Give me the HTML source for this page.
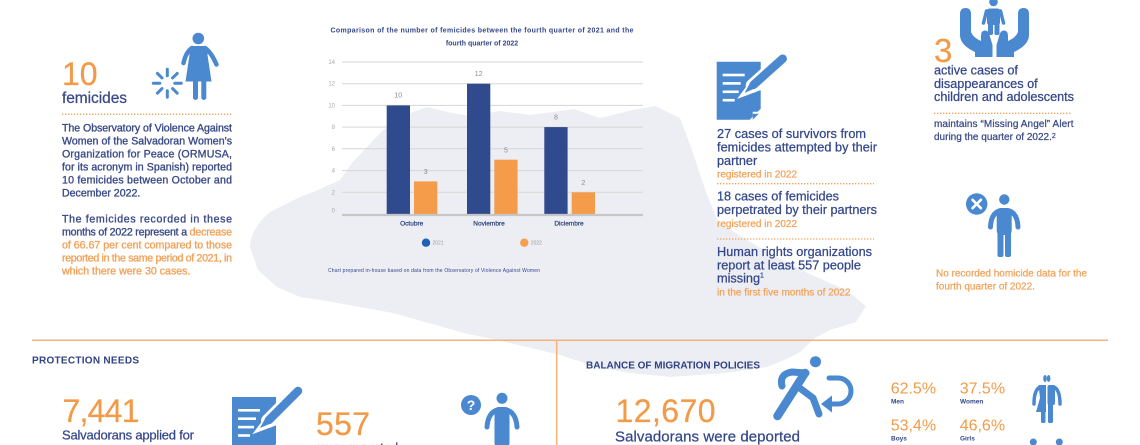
<!DOCTYPE html>
<html>
<head>
<meta charset="utf-8">
<style>
  html,body{margin:0;padding:0;background:#fff;}
  body{width:1140px;height:445px;overflow:hidden;}
  svg{display:block;}
  text{font-family:"Liberation Sans",Arial,sans-serif;}
  .med{stroke:currentColor;stroke-width:0.25px;}
  .med2{stroke:currentColor;stroke-width:0.35px;}
</style>
</head>
<body>
<svg width="1140" height="445" viewBox="0 0 1140 445" xmlns="http://www.w3.org/2000/svg">
  <rect width="1140" height="445" fill="#ffffff"/>

  <!-- Map silhouette -->
  <path fill="#eceef3" d="M250,247 C250,235 258,222 270,212 L300,197 L318,190 L340,180 L352,163 L367,147 L382,131 L402,116 L427,107 L447,112 L470,116 L500,111 L530,115 L553,112 L574,109 L600,118 L633,110 L655,106 L680,118 L692,150 L706,192 L718,222 L760,248 L805,272 L846,290 L866,306 L856,322 L830,330 L815,338 L800,352 L789,358 L767,367 L726,373 L671,377 L630,373 L597,367 L560,355 L510,343 L464,333 L393,313 L321,300 L300,297 L277,287 L258,270 Z"/>

  <!-- ============ LEFT BLOCK ============ -->
  <text x="62" y="85" font-size="32" fill="#f29a48" class="med" style="color:#f29a48">10</text>
  <text x="62" y="103" font-size="15.5" fill="#3a4a88" class="med" style="color:#3a4a88" textLength="65">femicides</text>

  <!-- woman icon -->
  <g fill="#4a89cf">
    <circle cx="198.3" cy="38.5" r="5.8"/>
    <path d="M191,46 L206,46 Q208.5,48 207.5,55 L211.5,81.5 L185.5,81.5 L189.5,55 Q188.5,48 191,46 Z"/>
    <rect x="193" y="78" width="5" height="22" rx="2.5"/>
    <rect x="201.3" y="78" width="5" height="22" rx="2.5"/>
  </g>
  <g stroke="#4a89cf" stroke-width="4.5" stroke-linecap="round" fill="none">
    <path d="M192,48 Q186,52 183.5,63"/>
    <path d="M205,48 Q211,52 216.5,64.5"/>
  </g>
  <g transform="translate(167.3,83.3)" stroke="#4a89cf" stroke-width="3" stroke-linecap="round">
    <line x1="0" y1="-7.5" x2="0" y2="-14" transform="rotate(0)"/>
    <line x1="0" y1="-7.5" x2="0" y2="-14" transform="rotate(45)"/>
    <line x1="0" y1="-7.5" x2="0" y2="-14" transform="rotate(90)"/>
    <line x1="0" y1="-7.5" x2="0" y2="-14" transform="rotate(135)"/>
    <line x1="0" y1="-7.5" x2="0" y2="-14" transform="rotate(180)"/>
    <line x1="0" y1="-7.5" x2="0" y2="-14" transform="rotate(225)"/>
    <line x1="0" y1="-7.5" x2="0" y2="-14" transform="rotate(270)"/>
    <line x1="0" y1="-7.5" x2="0" y2="-14" transform="rotate(315)"/>
  </g>

  <line x1="62" y1="114.3" x2="232" y2="114.3" stroke="#f3a259" stroke-width="1.3" stroke-dasharray="1.3,1.7"/>

  <g font-size="10.6" fill="#3a4a88" class="med2" style="color:#3a4a88">
    <text x="62" y="131.5" textLength="170" lengthAdjust="spacing">The Observatory of Violence Against</text>
    <text x="62" y="144.5" textLength="170" lengthAdjust="spacing">Women of the Salvadoran Women's</text>
    <text x="62" y="157.5" textLength="170" lengthAdjust="spacing">Organization for Peace (ORMUSA,</text>
    <text x="62" y="170.5" textLength="170" lengthAdjust="spacing">for its acronym in Spanish) reported</text>
    <text x="62" y="183.5" textLength="170" lengthAdjust="spacing">10 femicides between October and</text>
    <text x="62" y="196.5">December 2022.</text>
    <text x="62" y="222.5" textLength="170" lengthAdjust="spacing">The femicides recorded in these</text>
    <text x="62" y="235.5" textLength="170" lengthAdjust="spacing">months of 2022 represent a <tspan fill="#f3a259" style="color:#f3a259">decrease</tspan></text>
  </g>
  <g font-size="10.6" fill="#f3a259" class="med2" style="color:#f3a259">
    <text x="62" y="248.5" textLength="170" lengthAdjust="spacing">of 66.67 per cent compared to those</text>
    <text x="62" y="261.5" textLength="170" lengthAdjust="spacing">reported in the same period of 2021, in</text>
    <text x="62" y="274.5">which there were 30 cases.</text>
  </g>

  <!-- ============ CHART ============ -->
  <g font-size="7" font-weight="bold" fill="#34478a" text-anchor="middle">
    <text x="482" y="32.3" textLength="303" lengthAdjust="spacing">Comparison of the number of femicides between the fourth quarter of 2021 and the</text>
    <text x="482" y="45.3">fourth quarter of 2022</text>
  </g>
  <g stroke="#d6d6d6" stroke-width="1">
    <line x1="342" y1="62" x2="643" y2="62"/>
    <line x1="342" y1="83.7" x2="643" y2="83.7"/>
    <line x1="342" y1="105.4" x2="643" y2="105.4"/>
    <line x1="342" y1="127.1" x2="643" y2="127.1"/>
    <line x1="342" y1="148.8" x2="643" y2="148.8"/>
    <line x1="342" y1="170.6" x2="643" y2="170.6"/>
    <line x1="342" y1="192.3" x2="643" y2="192.3"/>
  </g>
  <g font-size="6" fill="#a8a8a8" text-anchor="end">
    <text x="335" y="64">14</text>
    <text x="335" y="85.7">12</text>
    <text x="335" y="107.4">10</text>
    <text x="335" y="129.1">8</text>
    <text x="335" y="150.8">6</text>
    <text x="335" y="172.6">4</text>
    <text x="335" y="194.3">2</text>
    <text x="335" y="212.5">0</text>
  </g>
  <!-- bars -->
  <g fill="#2f4a8d">
    <rect x="386.7" y="105.4" width="23.3" height="108.6"/>
    <rect x="467" y="83.7" width="23.3" height="130.3"/>
    <rect x="544.3" y="127.1" width="23.3" height="86.9"/>
  </g>
  <g fill="#f59c4b">
    <rect x="414" y="181.4" width="23.3" height="32.6"/>
    <rect x="494.3" y="159.7" width="23.3" height="54.3"/>
    <rect x="571.7" y="192.3" width="23.3" height="21.7"/>
  </g>
  <line x1="342" y1="215" x2="643" y2="215" stroke="#c6c6c6" stroke-width="2.2"/>
  <g font-size="7" fill="#8a8a8a" text-anchor="middle">
    <text x="398.3" y="97.5">10</text>
    <text x="478.7" y="76">12</text>
    <text x="556" y="119.5">8</text>
    <text x="425.7" y="174">3</text>
    <text x="506" y="152.3">5</text>
    <text x="583.3" y="185">2</text>
  </g>
  <g font-size="6.5" fill="#33477f" text-anchor="middle" class="med" style="color:#33477f">
    <text x="411.7" y="225.5">Octubre</text>
    <text x="489" y="225.5">Noviembre</text>
    <text x="569" y="225.5">Diciembre</text>
  </g>
  <circle cx="426" cy="242.7" r="4.2" fill="#1f5fb5"/>
  <text x="432.5" y="244.5" font-size="5" fill="#9a9a9a">2021</text>
  <circle cx="524.3" cy="242.7" r="4.2" fill="#f5a04e"/>
  <text x="530.8" y="244.5" font-size="5" fill="#9a9a9a">2022</text>
  <text x="328" y="271.8" font-size="5" fill="#34478a" textLength="212" lengthAdjust="spacing">Chart prepared in-house based on data from the Observatory of Violence Against Women</text>

  <!-- ============ MIDDLE-RIGHT BLOCK ============ -->
  <g transform="translate(716.7,61.7)">
    <path d="M0,0 H44 V47 L33,58 H0 Z" fill="#4a89cf"/>
    <g fill="#ffffff">
      <rect x="6" y="12" width="22" height="2.6"/>
      <rect x="6" y="20.4" width="18" height="2.6"/>
      <rect x="6" y="28.8" width="16" height="2.6"/>
      <rect x="6" y="37.2" width="12" height="2.6"/>
    </g>
    <line x1="66" y1="-3" x2="36" y2="24" stroke="#ffffff" stroke-width="14" stroke-linecap="round"/>
    <polygon points="26,33 38,17 42,27" fill="#ffffff" stroke="#ffffff" stroke-width="4"/>
    <line x1="66" y1="-3" x2="37" y2="23" stroke="#4a89cf" stroke-width="8.5" stroke-linecap="round"/>
    <polygon points="28,31 34,20 40,26" fill="#4a89cf"/>
    <polygon points="36,50 44,50 36,58" fill="#ffffff"/>
    <polygon points="36,52 42,52 36,58" fill="#4a89cf"/>
  </g>

  <g font-size="12.7" fill="#34478a" class="med" style="color:#34478a">
    <text x="717" y="138.1" textLength="149" lengthAdjust="spacing">27 cases of survivors from</text>
    <text x="717" y="151.5" textLength="160" lengthAdjust="spacing">femicides attempted by their</text>
    <text x="717" y="164.8">partner</text>
    <text x="717" y="200.5">18 cases of femicides</text>
    <text x="717" y="214.1" textLength="160" lengthAdjust="spacing">perpetrated by their partners</text>
    <text x="717" y="256.1" textLength="155" lengthAdjust="spacing">Human rights organizations</text>
    <text x="717" y="269.5">report at least 557 people</text>
    <text x="717" y="282.5">missing<tspan font-size="7" dy="-5">1</tspan></text>
  </g>
  <g font-size="10" fill="#f3a259" class="med" style="color:#f3a259">
    <text x="717" y="177.7">registered in 2022</text>
    <text x="717" y="227">registered in 2022</text>
    <text x="717" y="295.7">in the first five months of 2022</text>
  </g>
  <line x1="717" y1="183.7" x2="874" y2="183.7" stroke="#f3a259" stroke-width="1.3" stroke-dasharray="1.3,1.7"/>
  <line x1="717" y1="239" x2="874" y2="239" stroke="#f3a259" stroke-width="1.3" stroke-dasharray="1.3,1.7"/>

  <!-- ============ FAR RIGHT BLOCK ============ -->
  <!-- hands + child -->
  <g fill="#4a89cf">
    <circle cx="993.5" cy="2" r="4.3"/>
    <rect x="987" y="8.5" width="13" height="16.5" rx="2.5"/>
    <rect x="988" y="23" width="5" height="12" rx="1.5"/>
    <rect x="994.5" y="23" width="5" height="12" rx="1.5"/>
    <path d="M960,14 Q960,8 965.5,8 Q971,8 971,14 L971,32 Q973,37 979,40 L981,41 L981,36 Q981,30.5 985,30.5 Q988.5,30.5 989.5,35 L992.5,45 L992.5,57 L975,57 L975,52 Q960,45 960,35 Z"/>
    <path transform="translate(1989,0) scale(-1,1)" d="M960,14 Q960,8 965.5,8 Q971,8 971,14 L971,32 Q973,37 979,40 L981,41 L981,36 Q981,30.5 985,30.5 Q988.5,30.5 989.5,35 L992.5,45 L992.5,57 L975,57 L975,52 Q960,45 960,35 Z"/>
  </g>
  <g stroke="#4a89cf" stroke-width="3.5" stroke-linecap="round">
    <line x1="986.5" y1="11" x2="983.5" y2="23"/>
    <line x1="1000.5" y1="11" x2="1003.5" y2="23"/>
  </g>

  <text x="934" y="62" font-size="33" fill="#f29a48" class="med" style="color:#f29a48">3</text>
  <g font-size="12.7" fill="#34478a" class="med" style="color:#34478a">
    <text x="934" y="74.5">active cases of</text>
    <text x="934" y="87.8">disappearances of</text>
    <text x="934" y="101.1" textLength="140" lengthAdjust="spacing">children and adolescents</text>
  </g>
  <line x1="934" y1="113.3" x2="1072" y2="113.3" stroke="#f3a259" stroke-width="1.3" stroke-dasharray="1.3,1.7"/>
  <g font-size="10" fill="#3a4a88" class="med" style="color:#3a4a88">
    <text x="934" y="127" textLength="139.5" lengthAdjust="spacing">maintains “Missing Angel” Alert</text>
    <text x="934" y="140">during the quarter of 2022.<tspan font-size="7" dy="-2">2</tspan></text>
  </g>

  <!-- person with X -->
  <circle cx="976.7" cy="204" r="10.7" fill="#4a89cf"/>
  <g stroke="#ffffff" stroke-width="2.6" stroke-linecap="round">
    <line x1="972.5" y1="199.8" x2="980.9" y2="208.2"/>
    <line x1="980.9" y1="199.8" x2="972.5" y2="208.2"/>
  </g>
  <g fill="#4a89cf">
    <circle cx="1004.3" cy="199.5" r="5.2"/>
    <rect x="996.7" y="208" width="15" height="27" rx="4"/>
    <rect x="997.5" y="230" width="6" height="27" rx="2"/>
    <rect x="1005" y="230" width="6" height="27" rx="2"/>
  </g>
  <g stroke="#4a89cf" stroke-width="5" stroke-linecap="round" fill="none">
    <path d="M999,211 Q991,214 990.5,227"/>
    <path d="M1009.5,211 Q1017.5,214 1018,227"/>
  </g>
  <g font-size="10" fill="#f3a259" class="med" style="color:#f3a259">
    <text x="936" y="276.3" textLength="151" lengthAdjust="spacing">No recorded homicide data for the</text>
    <text x="936" y="289.7">fourth quarter of 2022.</text>
  </g>

  <!-- ============ BOTTOM ============ -->
  <line x1="32" y1="340.3" x2="1108" y2="340.3" stroke="#f5b27a" stroke-width="1.5"/>
  <line x1="556.7" y1="340.3" x2="556.7" y2="445" stroke="#f5b27a" stroke-width="1.5"/>

  <text x="32" y="363.6" font-size="10" font-weight="bold" fill="#2f4283" textLength="107" lengthAdjust="spacing">PROTECTION NEEDS</text>
  <text x="62.5" y="422" font-size="32" fill="#f29a48" class="med" style="color:#f29a48" textLength="77" lengthAdjust="spacing">7,441</text>
  <text x="62" y="439.5" font-size="13" fill="#34478a" class="med" style="color:#34478a" textLength="132" lengthAdjust="spacing">Salvadorans applied for</text>

  <!-- doc icon bottom -->
  <g transform="translate(232,397)">
    <path d="M0,0 H44 V47 L33,58 H0 Z" fill="#4a89cf"/>
    <g fill="#ffffff">
      <rect x="6" y="12" width="22" height="2.6"/>
      <rect x="6" y="20.4" width="18" height="2.6"/>
      <rect x="6" y="28.8" width="16" height="2.6"/>
      <rect x="6" y="37.2" width="12" height="2.6"/>
    </g>
    <line x1="66" y1="-6" x2="36" y2="24" stroke="#ffffff" stroke-width="14" stroke-linecap="round"/>
    <polygon points="26,33 38,17 42,27" fill="#ffffff" stroke="#ffffff" stroke-width="4"/>
    <line x1="66" y1="-6" x2="37" y2="23" stroke="#4a89cf" stroke-width="8.5" stroke-linecap="round"/>
    <polygon points="28,31 34,20 40,26" fill="#4a89cf"/>
  </g>

  <text x="316" y="435" font-size="32" fill="#f29a48" class="med" style="color:#f29a48" textLength="54" lengthAdjust="spacing">557</text>
  <text x="318" y="452" font-size="13" fill="#34478a" class="med" style="color:#34478a">were reported</text>

  <!-- ? person -->
  <circle cx="471" cy="405" r="10" fill="#4a89cf"/>
  <text x="471" y="410" font-size="14" font-weight="bold" fill="#ffffff" text-anchor="middle">?</text>
  <g fill="#4a89cf">
    <circle cx="502" cy="398.3" r="5.5"/>
    <rect x="494.5" y="407" width="15" height="40" rx="4"/>
  </g>
  <g stroke="#4a89cf" stroke-width="5" stroke-linecap="round" fill="none">
    <path d="M497,410 Q488,413 487,427"/>
    <path d="M507,410 Q516,413 517,427"/>
  </g>

  <text x="586" y="368.6" font-size="10" font-weight="bold" fill="#2f4283" textLength="174" lengthAdjust="spacing">BALANCE OF MIGRATION POLICIES</text>
  <text x="615.5" y="422" font-size="32" fill="#f29a48" class="med" style="color:#f29a48" textLength="100" lengthAdjust="spacing">12,670</text>
  <text x="615" y="441.7" font-size="15" fill="#34478a" class="med" style="color:#34478a" textLength="185" lengthAdjust="spacing">Salvadorans were deported</text>

  <!-- runner -->
  <g fill="none" stroke="#4a89cf" stroke-linecap="round" stroke-linejoin="round">
    <path d="M805,373 L777.5,416" stroke-width="8.5"/>
    <path d="M782,386 Q779,374 792,372 L806,373" stroke-width="7"/>
    <path d="M801,389 L813,398 L819,414" stroke-width="7"/>
    <path d="M829,378 L838,378 A13,13 0 0 1 838,404 L830,404" stroke-width="5"/>
  </g>
  <circle cx="815.5" cy="361.7" r="5.5" fill="#4a89cf"/>
  <polygon points="821,404 832,395.5 832,412.5" fill="#4a89cf"/>

  <!-- percentages -->
  <g font-size="16" fill="#f29a48">
    <text x="890.7" y="393.3">62.5%</text>
    <text x="959.7" y="393.3">37.5%</text>
    <text x="890.7" y="430.7">53,4%</text>
    <text x="959.7" y="430.7">46,6%</text>
  </g>
  <g font-size="6.5" font-weight="bold" fill="#34478a">
    <text x="891" y="403.3">Men</text>
    <text x="960" y="403.3">Women</text>
    <text x="891" y="440.7">Boys</text>
    <text x="960" y="440.7">Girls</text>
  </g>

  <!-- man/woman split icon -->
  <g fill="#4a89cf">
    <ellipse cx="1045" cy="378.5" rx="1.8" ry="3.5"/>
    <ellipse cx="1048.6" cy="378.5" rx="1.8" ry="3.5"/>
    <path d="M1038.5,385 H1046 V412 L1036,412 L1040,398 Z"/>
    <rect x="1047.5" y="385" width="7.5" height="20" rx="2"/>
    <rect x="1041" y="405" width="4.5" height="18" rx="1.5"/>
    <rect x="1048" y="403" width="5" height="20" rx="1.5"/>
  </g>
  <g stroke="#4a89cf" stroke-width="3.5" stroke-linecap="round" fill="none">
    <path d="M1040,387 Q1034,390 1034,404"/>
    <path d="M1054,387 Q1060,390 1060,404"/>
  </g>
  <circle cx="1033.3" cy="442" r="3.5" fill="#4a89cf"/>
  <circle cx="1059.3" cy="442" r="3.5" fill="#4a89cf"/>
</svg>
</body>
</html>
